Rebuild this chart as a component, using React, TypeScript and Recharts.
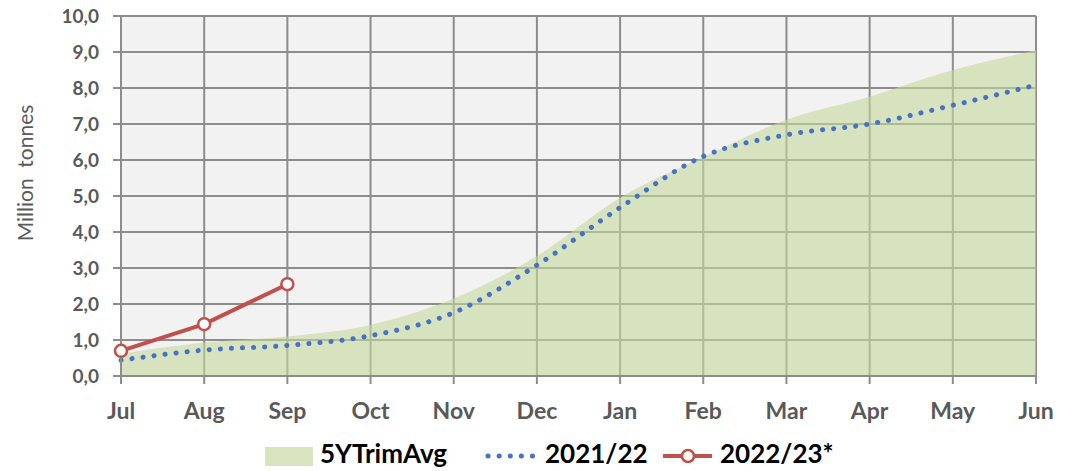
import { ComposedChart, Area, Line, XAxis, YAxis, CartesianGrid } from 'recharts';

const months = ['Jul', 'Aug', 'Sep', 'Oct', 'Nov', 'Dec', 'Jan', 'Feb', 'Mar', 'Apr', 'May', 'Jun'];
const avg5y = [0.62, 0.93, 1.1, 1.42, 2.15, 3.33, 4.95, 6.08, 7.12, 7.76, 8.5, 9.05];
const season2122 = [0.44, 0.72, 0.85, 1.12, 1.76, 3.08, 4.68, 6.1, 6.7, 7.0, 7.52, 8.08];
const season2223: (number | null)[] = [0.7, 1.44, 2.55, null, null, null, null, null, null, null, null, null];
const yTicks = [0, 1, 2, 3, 4, 5, 6, 7, 8, 9, 10];

const GRID = '#8c8c8c';
const FONT = 'Lato, "Open Sans", sans-serif';

const fmt = (v: number) => v.toFixed(1).replace('.', ',');

function YTitle() {
  return (
    <text
      x={24}
      y={173}
      transform="rotate(-90 24 173)"
      textAnchor="middle"
      dominantBaseline="central"
      fill="#595959"
      fontSize={21}
      fontFamily={FONT}
    >
      {'Million\u00a0\u00a0tonnes'}
    </text>
  );
}

const legendText = { position: 'absolute' as const, top: 437, fontSize: 26, fontWeight: 700, color: '#000', lineHeight: '32px' };

export default function App() {
  const data = months.map((m, i) => ({
    month: m,
    avg: avg5y[i],
    s2122: season2122[i],
    s2223: season2223[i],
  }));

  return (
    <div style={{ position: 'absolute', left: 0, top: 0, width: 1069, height: 471, background: '#fff', fontFamily: FONT, overflow: 'hidden' }}>
      <ComposedChart width={1069} height={471} data={data} margin={{ top: 16, right: 33, left: 0, bottom: 0 }}>
        <CartesianGrid fill="#f2f2f2" stroke={GRID} strokeWidth={2} />
        <XAxis
          dataKey="month"
          scale="point"
          padding={{ left: 0, right: 0 }}
          height={95}
          interval={0}
          axisLine={{ stroke: GRID, strokeWidth: 2 }}
          tickLine={{ stroke: GRID, strokeWidth: 2 }}
          tickSize={8}
          tickMargin={19}
          tick={{ fill: '#595959', fontSize: 23, fontWeight: 700, fontFamily: FONT }}
        />
        <YAxis
          domain={[0, 10]}
          ticks={yTicks}
          width={121}
          interval={0}
          tickFormatter={fmt}
          axisLine={{ stroke: GRID, strokeWidth: 2 }}
          tickLine={{ stroke: GRID, strokeWidth: 2 }}
          tickSize={8}
          tickMargin={14}
          tick={{ fill: '#595959', fontSize: 19, fontWeight: 700, fontFamily: FONT }}
          label={<YTitle />}
        />
        <Area
          type="monotone"
          dataKey="avg"
          fill="#c4d79b"
          fillOpacity={0.6}
          stroke="none"
          isAnimationActive={false}
        />
        <Line
          type="monotone"
          dataKey="s2122"
          stroke="#4472c4"
          strokeWidth={5}
          strokeDasharray="0.1 11"
          strokeLinecap="round"
          dot={false}
          activeDot={false}
          isAnimationActive={false}
        />
        <Line
          type="linear"
          dataKey="s2223"
          stroke="#c0504d"
          strokeWidth={4}
          dot={{ r: 6, fill: '#fff', stroke: '#c0504d', strokeWidth: 2.5 }}
          activeDot={false}
          isAnimationActive={false}
        />
      </ComposedChart>

      {/* legend, drawn by hand to keep the plot box fixed */}
      <div style={{ position: 'absolute', left: 265, top: 447, width: 48, height: 19, background: '#d7e4bd' }} />
      <div style={{ ...legendText, left: 320 }}>5YTrimAvg</div>
      <svg style={{ position: 'absolute', left: 480, top: 446 }} width={64} height={20}>
        <line x1={8} y1={10} x2={56} y2={10} stroke="#4472c4" strokeWidth={5} strokeDasharray="0.1 11" strokeLinecap="round" />
      </svg>
      <div style={{ ...legendText, left: 545 }}>2021/22</div>
      <svg style={{ position: 'absolute', left: 658, top: 446 }} width={60} height={20}>
        <line x1={5} y1={10} x2={54} y2={10} stroke="#c0504d" strokeWidth={4} />
        <circle cx={30} cy={10} r={6} fill="#fff" stroke="#c0504d" strokeWidth={2.5} />
      </svg>
      <div style={{ ...legendText, left: 720 }}>2022/23*</div>
    </div>
  );
}
